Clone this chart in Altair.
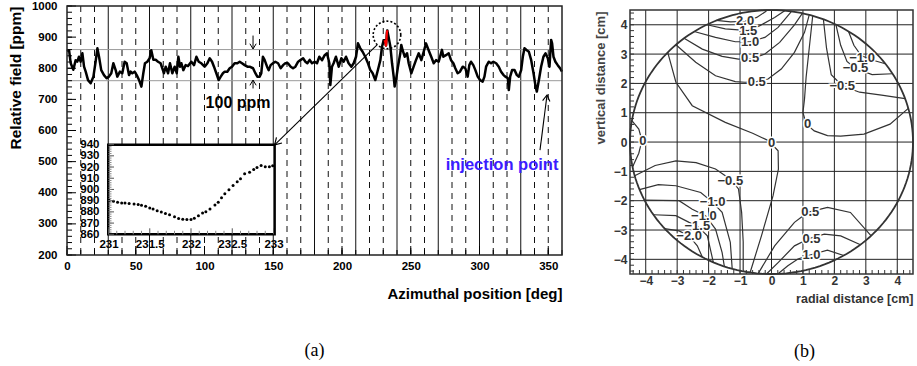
import altair as alt
import pandas as pd

FONT = "Liberation Sans"
SERIF = "Liberation Serif"

# ======================= panel (a) data =======================
az_deg = [0, 1.5, 2.7, 4.6, 6.3, 7.5, 8.7, 9.9, 11.2, 12.4, 13.6, 15.3, 17.2, 19.2, 20.8, 22.1, 23.3, 24.9,
          26.9, 28.8, 30.5, 32.2, 33.7, 35.4, 36.6, 38.5, 40.2, 41.9, 43.4, 45.1, 46.3, 47.5, 49.2, 50.7,
          52.4, 54.1, 55.5, 56.7, 58.4, 60.1, 61.3, 62.8, 64.5, 66.2, 68.1, 69.3, 70.5, 71.8, 73.5, 74.9,
          76.6, 78.3, 79.8, 81.0, 82.2, 83.2, 84.6, 86.3, 88.0,
          90.4, 92.4, 94.1, 95.8, 97.7, 100.1, 102.1, 103.8, 105.5, 106.9, 108.6, 110.3, 111.8, 113.4,
          114.7, 116.6, 118.3, 120.0, 121.9, 123.9, 125.6, 127.3, 129.2, 131.2, 132.8, 135.3, 137.0, 138.4,
          140.1, 141.3, 142.5, 143.7, 145.5, 146.7, 148.1, 149.8, 151.5, 153.5, 155.4, 157.1, 158.8, 160.7,
          162.7, 164.4, 166.1, 168.1, 170.0, 171.7, 173.4, 174.8, 176.5, 178.2, 180.1,
          181.8, 183.5, 185.5, 187.4, 189.1, 190.8, 191.5, 192.7, 193.9, 195.6, 197.6, 199.5, 201.2, 202.9,
          204.8, 206.8, 208.5, 210.2, 211.6, 213.3, 215.0, 216.9, 218.9, 220.6, 222.3, 224.2, 225.5, 226.7,
          227.9, 229.1, 230.3,
          233.4, 235.2, 236.4, 237.6, 238.3, 239.3, 240.7, 242.4, 243.1, 244.1, 245.6, 247.3, 248.5, 250.4,
          252.1, 253.8, 255.8, 257.7, 259.4, 261.1, 263.0, 264.9, 266.7, 268.4, 270.3,
          272.0, 272.7, 273.7, 275.6, 277.6, 279.3, 281.0, 282.4, 284.1, 285.8, 287.8, 289.7, 291.4, 292.6,
          293.8, 295.5, 297.0, 298.7, 300.4, 302.3, 303.6, 304.8, 306.7, 308.4, 310.1, 312.1, 314.0, 315.7,
          317.5, 318.9, 320.6, 321.3, 322.3, 323.7, 325.5, 327.2, 328.6, 330.3, 331.5, 332.7, 334.4, 335.9,
          337.6, 339.3, 340.8, 341.7, 343.2, 344.8, 346.5, 348.0, 349.7, 350.9, 352.1, 352.8, 353.8, 355.2,
          356.9, 358.6, 360.0]
field_ppm = [855, 858, 816, 795, 826, 821, 837, 821, 848, 805, 789, 762, 752, 773, 821, 864, 837, 794,
             778, 768, 773, 784, 816, 794, 773, 789, 784, 821, 816, 778, 789, 784, 789, 778,
             762, 741, 784, 816, 821, 832, 858, 827, 827, 821, 816, 800, 784, 805, 784, 816,
             784, 805, 784, 837, 805, 816, 794, 810, 807,
             821, 810, 837, 821, 816, 805, 816, 832, 821, 805, 784, 762, 773, 784,
             789, 789, 800, 805, 816, 816, 821, 816, 810, 805, 805, 800, 784, 773,
             773, 784, 837, 827, 805, 794, 810, 816, 821, 816, 800, 810, 816, 816,
             805, 800, 805, 821, 827, 832, 821, 816, 827, 816, 821,
             816, 837, 826, 842, 848, 816, 746, 805, 816, 837, 805, 832, 821, 837,
             816, 805, 816, 837, 880, 864, 853, 837, 816, 794, 784, 762, 784, 805,
             826, 869, 890,
             912, 869, 816, 773, 741, 762, 805, 848, 875, 858, 837, 848, 816, 784,
             805, 826, 848, 826, 853, 880, 858, 837, 816, 826, 821,
             848, 859, 837, 842, 848, 826, 816, 800, 784, 789, 805, 800, 773, 810,
             821, 810, 794, 773, 762, 757, 773, 805, 821, 816, 821, 816, 805, 789,
             778, 773, 768, 730, 773, 794, 794, 778, 773, 794, 837, 864, 858, 853,
             826, 784, 741, 725, 762, 805, 837, 848, 832, 805, 891, 880, 837, 821,
             810, 800, 789]

# zoomed region 231-233 deg (inset, drawn red in the main scan)
inset_az = [231.01, 231.06, 231.11, 231.16, 231.2, 231.25, 231.31, 231.36, 231.4, 231.45, 231.5, 231.54,
            231.59, 231.64, 231.69, 231.74, 231.8, 231.85, 231.9, 231.95, 232.0, 232.04, 232.09, 232.14,
            232.18, 232.23, 232.29, 232.33, 232.37, 232.41, 232.46, 232.51, 232.56, 232.6, 232.65, 232.71,
            232.76, 232.8, 232.85, 232.9, 232.95, 232.99]
inset_ppm = [890.1, 889.5, 888.6, 888.0, 888.0, 887.4, 887.1, 886.5, 885.9, 885.0, 883.5, 882.6,
             881.0, 879.8, 878.6, 877.4, 875.6, 874.1, 873.5, 873.2, 873.2, 874.4, 876.5, 878.9,
             880.2, 882.6, 886.2, 888.6, 892.5, 896.1, 899.7, 903.6, 906.9, 909.6, 914.1, 915.3,
             917.7, 919.5, 921.4, 920.2, 920.2, 921.1]

solid_deg = [30, 60, 90, 120, 150, 180, 210, 240, 270, 300, 330]
dashed_deg = [10, 20, 40, 50, 70, 80, 100, 110, 130, 140, 160, 170, 190, 200, 220, 230, 250, 260,
              280, 290, 310, 320, 340, 350]
band_ppm = [760, 860]
a_xlabels = [0, 50, 100, 150, 200, 250, 300, 350]
a_ylabels = [200, 300, 400, 500, 600, 700, 800, 900, 1000]
a_xminor = list(range(0, 361, 10))
a_yminor = list(range(200, 1001, 20))
inset_xlabels = [231, 231.5, 232, 232.5, 233]
inset_ylabels = [860, 870, 880, 890, 900, 910, 920, 930, 940]
inset_xminor = [231.1, 231.2, 231.3, 231.4, 231.6, 231.7, 231.8, 231.9, 232.1, 232.2, 232.3, 232.4,
                232.6, 232.7, 232.8, 232.9]
inset_yminor = list(range(862, 940, 2))

# annotation anchors (data coordinates)
inset_box = {"az": [30], "az2": [151], "ppm": [267], "ppm2": [554]}
zoom_circle = {"az": [232.7], "ppm": [907]}
leader = {"az": [151, 225.5], "ppm": [554, 875]}
inj_arrow = {"az": [344, 349.1], "ppm": [537, 714]}
band_arrows = {"az": [135.3, 135.3], "ppm": [905, 735], "ppm2": [862, 762], "ang": [180, 0]}
txt_band = {"az": [124.4], "ppm": [688], "t": ["100 ppm"]}
txt_inj = {"az": [316.4], "ppm": [489], "t": ["injection point"]}

# ======================= panel (b) data =======================
R_PIPE = 4.5
b_grid = [-4, -3, -2, -1, 0, 1, 2, 3, 4]
b_minor = [round(-4.4 + 0.2 * i, 1) for i in range(45)]

contours = {
    "p20": [(-1.75, 4.15), (-1.3, 4.1), (-0.84, 4.12), (-0.47, 4.25), (-0.16, 4.47)],
    "p15": [(-2.05, 4.0), (-1.47, 3.86), (-0.74, 3.80), (-0.37, 3.97), (0.10, 4.25), (0.42, 4.48)],
    "p10": [(-2.46, 3.77), (-1.78, 3.57), (-1.15, 3.42), (-0.68, 3.42), (-0.21, 3.57), (0.21, 3.91), (0.63, 4.45)],
    "p05a": [(-2.78, 3.54), (-2.2, 3.17), (-1.57, 2.92), (-1.05, 2.83), (-0.6, 2.85), (-0.21, 3.0), (0.26, 3.4),
             (0.73, 4.0), (0.98, 4.39)],
    "p05b": [(-3.04, 3.32), (-2.41, 2.72), (-1.78, 2.26), (-1.15, 2.06), (-0.84, 2.04), (-0.47, 2.06),
             (-0.11, 2.15), (0.31, 2.49), (0.73, 3.06), (1.05, 3.74), (1.2, 4.34)],
    "z_ur": [(1.31, 4.30), (1.2, 3.2), (1.1, 2.2), (1.05, 1.47), (1.0, 1.01), (1.1, 0.62), (1.36, 0.38),
             (1.78, 0.22), (2.2, 0.2), (2.94, 0.27), (3.77, 0.61), (4.35, 1.15)],
    "m10u": [(2.45, 3.77), (2.62, 3.3), (2.85, 2.95), (3.2, 2.8), (3.62, 2.67)],
    "m05u1": [(2.05, 4.0), (2.2, 3.3), (2.4, 2.75), (2.67, 2.51), (3.2, 2.3), (3.85, 2.33)],
    "m05u2": [(1.65, 4.19), (1.75, 3.2), (1.9, 2.3), (2.25, 1.92), (2.8, 1.7), (3.5, 1.6), (4.25, 1.48)],
    "z_c": [(-3.3, 3.06), (-3.04, 2.04), (-2.52, 1.24), (-1.47, 0.67), (-0.6, 0.3), (-0.1, 0.05), (0.21, -0.3),
            (0.22, -0.92), (0.05, -1.83), (-0.32, -3.2), (-0.68, -4.45)],
    "z_l": [(-4.44, 0.73), (-4.22, 0.44), (-4.12, 0.05), (-4.22, -0.38), (-4.42, -0.85)],
    "m05l": [(-4.35, -1.15), (-3.7, -0.8), (-3.04, -0.64), (-2.4, -0.7), (-1.78, -0.92), (-1.4, -1.2),
             (-1.2, -1.4), (-1.05, -1.6), (-0.95, -2.4), (-0.9, -3.4), (-0.9, -4.41)],
    "m10l1": [(-4.2, -1.62), (-3.6, -1.45), (-3.04, -1.49), (-2.25, -1.72), (-1.89, -2.04), (-1.57, -2.4),
              (-1.31, -3.42), (-1.25, -4.32)],
    "m10l2": [(-4.04, -1.98), (-2.94, -2.0), (-2.52, -2.29), (-2.1, -2.51), (-1.78, -2.97), (-1.57, -3.77),
              (-1.5, -4.24)],
    "m15l": [(-3.75, -2.48), (-3.04, -2.51), (-2.62, -2.74), (-2.36, -2.86), (-2.04, -3.2), (-1.85, -4.1)],
    "m20l": [(-3.4, -2.95), (-2.94, -3.03), (-2.62, -3.2), (-2.36, -3.54), (-2.2, -3.92)],
    "p05r1": [(-0.42, -4.48), (0.1, -3.54), (0.73, -2.74), (1.15, -2.4), (1.78, -2.23), (2.51, -2.4), (3.17, -3.2)],
    "p05r2": [(-0.16, -4.5), (0.21, -4.11), (0.73, -3.54), (1.2, -3.29), (1.68, -3.14), (2.2, -3.2), (2.83, -3.5)],
    "p10r": [(0.21, -4.49), (0.52, -4.22), (0.84, -3.99), (1.2, -3.86), (1.78, -3.69), (2.3, -3.87)],
}
lab_text = ["2.0", "1.5", "1.0", "0.5", "0.5", "0", "0", "0", "\u22121.0", "\u22120.5", "\u22120.5",
            "\u22120.5", "\u22121.0", "\u22121.0", "\u22121.5", "\u22122.0", "0.5", "0.5", "1.0"]
lab_x = [-0.84, -0.74, -0.68, -0.68, -0.47, 1.15, 0.0, -4.09, 2.88, 2.67, 2.25,
         -1.31, -1.87, -2.15, -2.36, -2.62, 1.23, 1.27, 1.27]
lab_y = [4.14, 3.80, 3.42, 2.85, 2.06, 0.61, -0.03, 0.05, 2.87, 2.51, 1.92,
         -1.32, -2.04, -2.51, -2.85, -3.2, -2.40, -3.29, -3.86]

# ======================= panel (a) chart =======================
WA, HA = 495, 249
SXA = alt.Scale(domain=[0, 360], nice=False, zero=False)
SYA = alt.Scale(domain=[200, 1000], nice=False, zero=False)
CHEVRON = "M-0.6,1L0,0L0.6,1"

ax_ax = alt.Axis(values=a_xlabels, title="Azimuthal position [deg]", titleAnchor="end", titleFont=FONT,
                 titleFontSize=15, titleFontWeight="bold", titleColor="black", titlePadding=14,
                 labelFont=FONT, labelFontSize=11.5, labelFontWeight="bold", labelColor="black", format="d",
                 labelPadding=5.5, ticks=False, domain=False, grid=False, labelFlush=False, labelOverlap=False)
ax_ay = alt.Axis(values=a_ylabels, title="Relative field [ppm]", titleAnchor="end", titleFont=FONT,
                 titleFontSize=15.5, titleFontWeight="bold", titleColor="black", titlePadding=8,
                 labelFont=FONT, labelFontSize=11.5, labelFontWeight="bold", labelColor="black", format="d",
                 labelPadding=10, ticks=False, domain=False, grid=False, labelOverlap=False)


def XA(f="az"):
    return alt.X(f"{f}:Q", scale=SXA, axis=ax_ax)


def YA(f="ppm"):
    return alt.Y(f"{f}:Q", scale=SYA, axis=ax_ay)


main_df = pd.DataFrame({"az": az_deg + inset_az, "ppm": field_ppm + inset_ppm}).sort_values("az")
inset_df = pd.DataFrame({"az": inset_az, "ppm": inset_ppm})
frame_a = pd.DataFrame({"az": [0], "az2": [360], "ppm": [200], "ppm2": [1000]})

l_dash = alt.Chart(pd.DataFrame({"az": dashed_deg})).mark_rule(
    color="#111", strokeWidth=1, strokeDash=[6, 5]).encode(x=XA())
l_solid = alt.Chart(pd.DataFrame({"az": solid_deg})).mark_rule(color="#111", strokeWidth=1).encode(x=XA())
l_band = alt.Chart(pd.DataFrame({"ppm": band_ppm})).mark_rule(color="#9a9a9a", strokeWidth=1).encode(y=YA())
l_yt1 = alt.Chart(pd.DataFrame({"ppm": a_ylabels})).mark_rule(color="black").encode(
    y=YA(), x=alt.value(0), x2=alt.value(9))
l_yt2 = alt.Chart(pd.DataFrame({"ppm": a_yminor})).mark_rule(color="black").encode(
    y=YA(), x=alt.value(0), x2=alt.value(5))
l_xt1 = alt.Chart(pd.DataFrame({"az": a_xlabels})).mark_rule(color="black").encode(
    x=XA(), y=alt.value(HA), y2=alt.value(HA - 9))
l_xt2 = alt.Chart(pd.DataFrame({"az": a_xminor})).mark_rule(color="black").encode(
    x=XA(), y=alt.value(HA), y2=alt.value(HA - 5))
l_line = alt.Chart(main_df).mark_line(color="black", strokeWidth=2.5, strokeJoin="round").encode(
    x=XA(), y=YA())
l_red = alt.Chart(inset_df).mark_line(color="#ff0000", strokeWidth=2.2).encode(x=XA(), y=YA())
l_circ = alt.Chart(pd.DataFrame(zoom_circle)).mark_point(
    shape="circle", size=760, filled=False, color="black", strokeWidth=1.6, strokeDash=[2, 2], opacity=1
).encode(x=XA(), y=YA())
l_leader = alt.Chart(pd.DataFrame(leader)).mark_line(color="black", strokeWidth=1.1).encode(x=XA(), y=YA())
l_leader_head = alt.Chart(pd.DataFrame({k: v[:1] for k, v in leader.items()})).mark_point(
    shape=CHEVRON, size=170, angle=225, filled=False, color="black", strokeWidth=1.2, opacity=1
).encode(x=XA(), y=YA())
l_inj = alt.Chart(pd.DataFrame(inj_arrow)).mark_line(color="black", strokeWidth=1.1).encode(x=XA(), y=YA())
l_inj_head = alt.Chart(pd.DataFrame({k: v[1:] for k, v in inj_arrow.items()})).mark_point(
    shape=CHEVRON, size=150, angle=7, filled=False, color="black", strokeWidth=1.1, opacity=1
).encode(x=XA(), y=YA())
l_barr = alt.Chart(pd.DataFrame(band_arrows)).mark_rule(color="black", strokeWidth=1).encode(
    x=XA(), y=YA(), y2="ppm2:Q")
l_barr_head = alt.Chart(pd.DataFrame(band_arrows)).mark_point(
    shape=CHEVRON, size=110, filled=False, color="black", strokeWidth=1, opacity=1
).encode(x=XA(), y=YA("ppm2"), angle=alt.Angle("ang:Q", scale=None))
l_tband = alt.Chart(pd.DataFrame(txt_band)).mark_text(
    font=FONT, fontSize=16, fontWeight="bold", color="black").encode(x=XA(), y=YA(), text="t:N")
l_tinj = alt.Chart(pd.DataFrame(txt_inj)).mark_text(
    font=FONT, fontSize=16.5, fontWeight="bold", color="#3c1cff").encode(x=XA(), y=YA(), text="t:N")
l_box = alt.Chart(pd.DataFrame(inset_box)).mark_rect(fill="white", stroke="black", strokeWidth=2.5).encode(
    x=XA(), x2="az2:Q", y=YA(), y2="ppm2:Q")
l_frame = alt.Chart(frame_a).mark_rect(
    fillOpacity=0, stroke="#222", strokeWidth=1.5).encode(x=XA(), x2="az2:Q", y=YA(), y2="ppm2:Q")

main_layer = alt.layer(l_dash, l_solid, l_band, l_line, l_red, l_circ, l_leader, l_leader_head,
                       l_inj, l_inj_head, l_barr, l_barr_head, l_tband, l_tinj, l_box,
                       l_yt1, l_yt2, l_xt1, l_xt2, l_frame)

# inset: its own scales, placed in pixels inside the plot area
IB_BOTTOM = 228.3
ISX = alt.Scale(domain=[231, 233], range=[41.5, 206.5], nice=False, zero=False)
ISY = alt.Scale(domain=[860, 940], range=[IB_BOTTOM, 138.6], nice=False, zero=False)
ax_ix = alt.Axis(orient="bottom", offset=-(HA - IB_BOTTOM), values=inset_xlabels, format="~g",
                 labelFont=FONT, labelFontSize=11.5, labelFontWeight="bold", labelColor="black",
                 labelPadding=4, ticks=False, domain=False, grid=False, title=None, labelFlush=False,
                 labelOverlap=False)
ax_iy = alt.Axis(orient="left", offset=-41, values=inset_ylabels, format="d", labelFont=FONT,
                 labelFontSize=11.5, labelFontWeight="bold", labelColor="black", labelPadding=9, ticks=False,
                 domain=False, grid=False, title=None, labelOverlap=False)


def XI():
    return alt.X("az:Q", scale=ISX, axis=ax_ix)


def YI():
    return alt.Y("ppm:Q", scale=ISY, axis=ax_iy)


i_dots = alt.Chart(inset_df).mark_circle(size=9, color="black", opacity=1).encode(x=XI(), y=YI())
i_yt1 = alt.Chart(pd.DataFrame({"ppm": inset_ylabels})).mark_rule(color="#555").encode(
    y=YI(), x=alt.value(41.5), x2=alt.value(47))
i_yt2 = alt.Chart(pd.DataFrame({"ppm": inset_yminor})).mark_rule(color="#888").encode(
    y=YI(), x=alt.value(41.5), x2=alt.value(44.5))
i_xt1 = alt.Chart(pd.DataFrame({"az": inset_xlabels})).mark_rule(color="#555").encode(
    x=XI(), y=alt.value(IB_BOTTOM), y2=alt.value(IB_BOTTOM - 6))
i_xt2 = alt.Chart(pd.DataFrame({"az": inset_xminor})).mark_rule(color="#888").encode(
    x=XI(), y=alt.value(IB_BOTTOM), y2=alt.value(IB_BOTTOM - 3.5))
inset_layer = alt.layer(i_dots, i_yt1, i_yt2, i_xt1, i_xt2)

chart_a = alt.layer(main_layer, inset_layer).resolve_scale(x="independent", y="independent").properties(
    width=WA, height=HA,
    title=alt.TitleParams(text="(a)", orient="bottom", anchor="middle", frame="group", offset=41,
                          font=SERIF, fontSize=18, fontWeight="normal", color="black"))

# ======================= panel (b) chart =======================
WB, HB = 283, 268
SXB = alt.Scale(domain=[-4.5, 4.5], nice=False, zero=False)
SYB = alt.Scale(domain=[-4.5, 4.64], nice=False, zero=False)

ax_bx = alt.Axis(values=b_grid, title="radial distance [cm]", titleAnchor="end", titleFont=FONT,
                 titleFontSize=12.5, titleFontWeight="bold", titleColor="#333", titlePadding=5.5,
                 labelFont=FONT, labelFontSize=12, labelFontWeight="bold", labelColor="#333", format="d",
                 labelPadding=1.5, ticks=False, domain=False, grid=False, labelFlush=False, labelOverlap=False)
ax_by = alt.Axis(values=b_grid, title="vertical distance [cm]", titleY=5, titleAlign="right",
                 titleFont=FONT, titleFontSize=13, titleFontWeight="bold", titleColor="#444",
                 titlePadding=5.5, labelFont=FONT, labelFontSize=12, labelFontWeight="bold", format="d",
                 labelColor="#333", labelPadding=3, ticks=False, domain=False, grid=False, labelOverlap=False)


def XB(f="x"):
    return alt.X(f"{f}:Q", scale=SXB, axis=ax_bx)


def YB(f="y"):
    return alt.Y(f"{f}:Q", scale=SYB, axis=ax_by)


rows = []
for cid, pts in contours.items():
    for k, (x, y) in enumerate(pts):
        rows.append({"cid": cid, "k": k, "x": x, "y": y})
cont_df = pd.DataFrame(rows)
lab_df = pd.DataFrame({"x": lab_x, "y": lab_y, "t": lab_text})
frame_b = pd.DataFrame({"x": [-R_PIPE], "x2": [R_PIPE], "y": [-R_PIPE], "y2": [R_PIPE]})

b_vgrid = alt.Chart(pd.DataFrame({"x": b_grid, "y": -R_PIPE, "y2": R_PIPE})).mark_rule(
    color="#222", strokeWidth=1).encode(x=XB(), y=YB(), y2="y2:Q")
b_hgrid = alt.Chart(pd.DataFrame({"y": b_grid, "x": -R_PIPE, "x2": R_PIPE})).mark_rule(
    color="#222", strokeWidth=1).encode(y=YB(), x=XB(), x2="x2:Q")
b_xt = alt.Chart(pd.DataFrame({"x": b_minor})).mark_rule(color="#333").encode(
    x=XB(), y=alt.value(HB), y2=alt.value(HB - 4))
b_yt = alt.Chart(pd.DataFrame({"y": b_minor})).mark_rule(color="#333").encode(
    y=YB(), x=alt.value(0), x2=alt.value(4))
b_cont = alt.Chart(cont_df).mark_line(color="#333", strokeWidth=1.2).encode(
    x=XB(), y=YB(), detail="cid:N", order=alt.Order("k:Q"))
b_circle = alt.Chart(alt.sequence(0, 362, 2, as_="t")).transform_calculate(
    x=f"{R_PIPE}*cos(datum.t*PI/180)", y=f"{R_PIPE}*sin(datum.t*PI/180)"
).mark_line(color="#333", strokeWidth=1.8).encode(x=XB(), y=YB(), order=alt.Order("t:Q"))
b_frame = alt.Chart(frame_b).mark_rect(
    fillOpacity=0, stroke="#333", strokeWidth=1.5).encode(x=XB(), x2="x2:Q", y=YB(), y2="y2:Q")
b_halo = alt.Chart(lab_df).mark_text(font=FONT, fontSize=13, fontWeight="bold", color="white",
                                     stroke="white", strokeWidth=3).encode(x=XB(), y=YB(), text="t:N")
b_lab = alt.Chart(lab_df).mark_text(font=FONT, fontSize=13, fontWeight="bold", color="#333").encode(
    x=XB(), y=YB(), text="t:N")

chart_b = alt.layer(b_vgrid, b_hgrid, b_xt, b_yt, b_cont, b_circle, b_frame, b_halo, b_lab).properties(
    width=WB, height=HB,
    title=alt.TitleParams(text="(b)", orient="bottom", anchor="middle", frame="group", offset=38, dx=33,
                          font=SERIF, fontSize=18, fontWeight="normal", color="black"))

chart = alt.hconcat(chart_a, chart_b, spacing=30).properties(
    padding={"left": 8, "top": 0, "right": 0, "bottom": 0},
    background="white",
).configure_view(stroke=None)

chart.save("out.html", embed_options={"renderer": "svg", "actions": False})
